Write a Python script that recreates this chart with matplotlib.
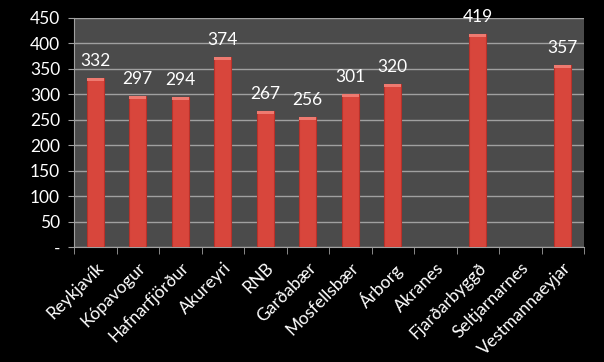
import numpy as np
import matplotlib.pyplot as plt
from matplotlib.ticker import FuncFormatter

plt.rcParams['font.family'] = ['Lato', 'DejaVu Sans']

towns = ['Reykjavík', 'Kópavogur', 'Hafnarfjörður', 'Akureyri', 'RNB', 'Garðabær',
         'Mosfellsbær', 'Árborg', 'Akranes', 'Fjarðarbyggð', 'Seltjarnarnes', 'Vestmannaeyjar']
values = [332, 297, 294, 374, 267, 256, 301, 320, np.nan, 419, np.nan, 357]

fig = plt.figure(figsize=(6.04, 3.62), dpi=100, facecolor='black')
ax = fig.add_axes([74/604, 1 - 247/362, 510/604, 229/362])
ax.set_facecolor('#4b4b4b')

x = np.arange(len(towns))
ax.bar(x, values, width=0.4, color='#d8463c', edgecolor='#b8322a', linewidth=0.8, zorder=3)
# lighter bevel on top of each bar
for xi, v in zip(x, values):
    if not np.isnan(v):
        ax.bar(xi, 6, bottom=v - 6, width=0.4, color='#ee7a70', linewidth=0, zorder=4)
        ax.text(xi, v + 18, f'{int(v)}', ha='center', va='bottom', color='white', fontsize=12.5, zorder=5)

ax.set_xlim(-0.5, len(towns) - 0.5)
ax.set_ylim(0, 450)
ax.set_yticks(range(0, 451, 50))
ax.yaxis.set_major_formatter(FuncFormatter(lambda v, p: '-' if v == 0 else f'{int(v)}'))
ax.grid(axis='y', color='#a0a0a0', linewidth=1, zorder=1)

ax.set_xticks(x)
ax.set_xticklabels(towns, rotation=45, ha='right', rotation_mode='anchor', color='white', fontsize=12.5)
ax.tick_params(axis='x', length=0, pad=9)
ax.set_xticks(np.arange(-0.5, len(towns), 1), minor=True)
ax.tick_params(axis='x', which='minor', length=5, color='#a0a0a0', direction='out')
ax.tick_params(axis='y', colors='white', labelsize=12.5, length=4, color='#a0a0a0', pad=6)

for s in ['top', 'right']:
    ax.spines[s].set_visible(False)
ax.spines['left'].set_color('#a0a0a0')
ax.spines['bottom'].set_color('#a0a0a0')

fig.savefig('out.png', dpi=100, facecolor='black')
